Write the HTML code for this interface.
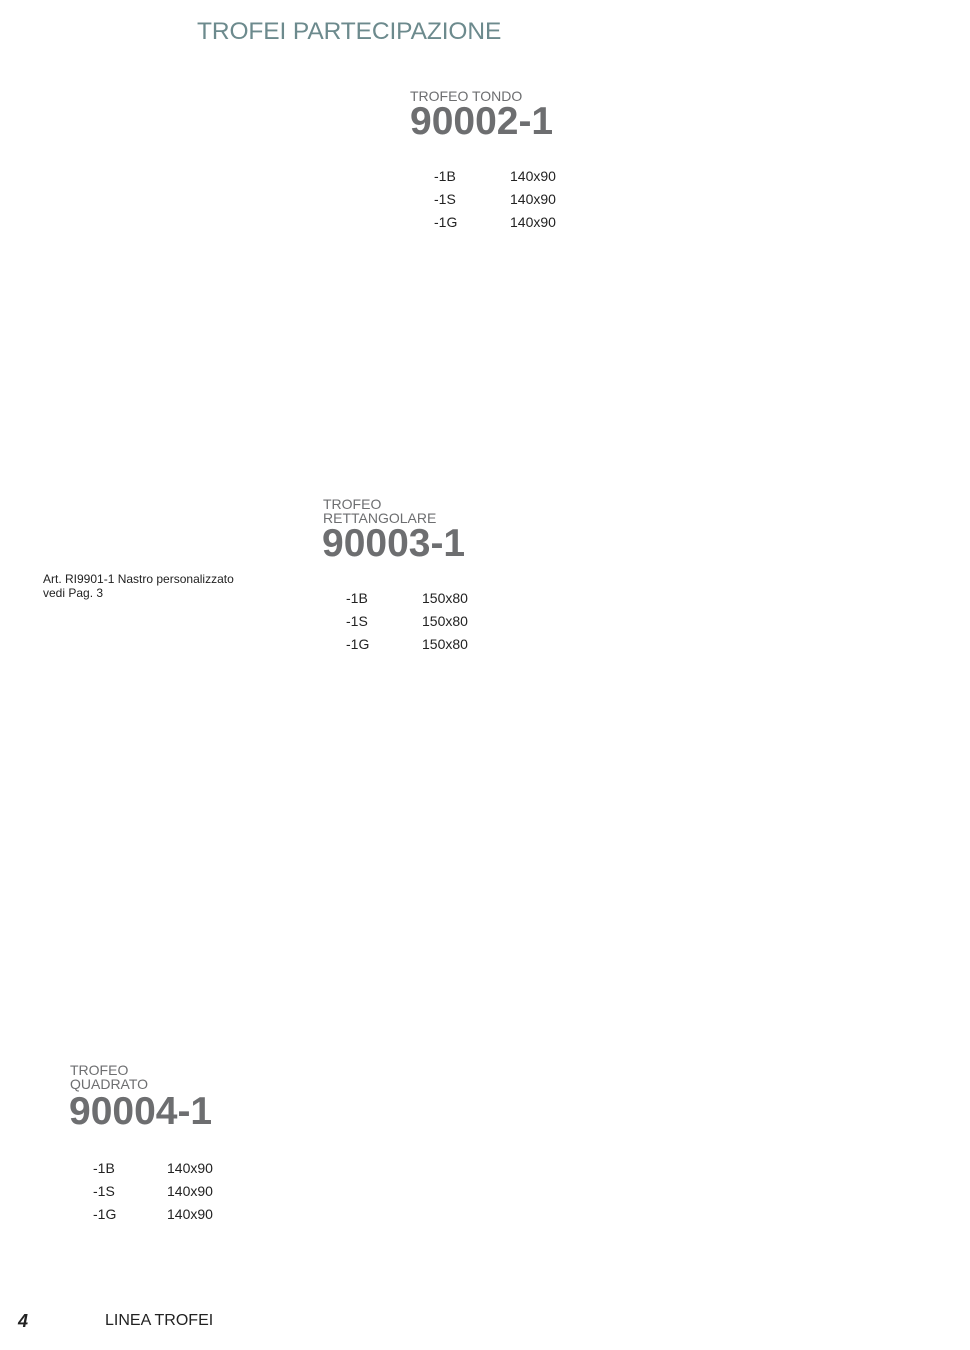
<!DOCTYPE html>
<html><head><meta charset="utf-8"><style>
body{margin:0;width:970px;height:1350px;background:#fff;position:relative;font-family:"Liberation Sans",sans-serif;color:#222;overflow:hidden}
.a{position:absolute;white-space:nowrap}
.t{color:#6c8a8d;font-size:24.5px;letter-spacing:-0.1px}
.s{color:#6d6e70;font-size:14px;line-height:14px}
.n{color:#6d6e70;font-size:39px;font-weight:bold;letter-spacing:0px}
.r{font-size:14px}
</style></head><body>
<div class="a t" style="left:197px;top:18px">TROFEI PARTECIPAZIONE</div>

<div class="a s" style="left:410px;top:89px">TROFEO TONDO</div>
<div class="a n" style="left:410px;top:100px">90002-1</div>
<div class="a r" style="left:434px;top:168px">-1B</div><div class="a r" style="left:510px;top:168px">140x90</div>
<div class="a r" style="left:434px;top:191px">-1S</div><div class="a r" style="left:510px;top:191px">140x90</div>
<div class="a r" style="left:434px;top:214px">-1G</div><div class="a r" style="left:510px;top:214px">140x90</div>

<div class="a s" style="left:323px;top:497px">TROFEO<br>RETTANGOLARE</div>
<div class="a n" style="left:322px;top:522px">90003-1</div>
<div class="a" style="left:43px;top:572px;font-size:12px;line-height:14px">Art. RI9901-1 Nastro personalizzato<br>vedi Pag. 3</div>
<div class="a r" style="left:346px;top:590px">-1B</div><div class="a r" style="left:422px;top:590px">150x80</div>
<div class="a r" style="left:346px;top:613px">-1S</div><div class="a r" style="left:422px;top:613px">150x80</div>
<div class="a r" style="left:346px;top:636px">-1G</div><div class="a r" style="left:422px;top:636px">150x80</div>

<div class="a s" style="left:70px;top:1063px">TROFEO<br>QUADRATO</div>
<div class="a n" style="left:69px;top:1090px">90004-1</div>
<div class="a r" style="left:93px;top:1160px">-1B</div><div class="a r" style="left:167px;top:1160px">140x90</div>
<div class="a r" style="left:93px;top:1183px">-1S</div><div class="a r" style="left:167px;top:1183px">140x90</div>
<div class="a r" style="left:93px;top:1206px">-1G</div><div class="a r" style="left:167px;top:1206px">140x90</div>

<div class="a" style="left:18px;top:1311px;font-size:18px;font-weight:bold;font-style:italic">4</div>
<div class="a" style="left:105px;top:1312px;font-size:16px">LINEA TROFEI</div>
</body></html>
